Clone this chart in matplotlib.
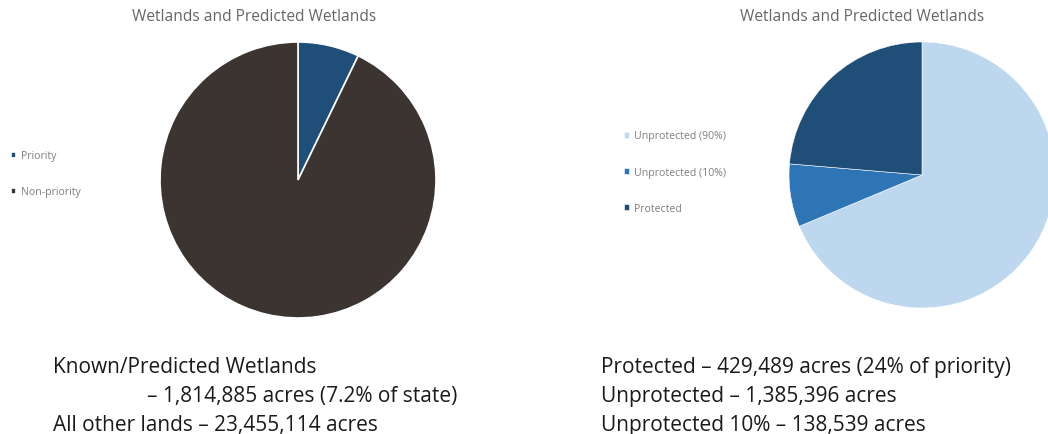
import matplotlib.pyplot as plt

# data
left_labels = ["Priority", "Non-priority"]
left_values = [1814885, 23455114]
left_colors = ["#1f4e79", "#3b3431"]

right_labels = ["Unprotected (90%)", "Unprotected (10%)", "Protected"]
right_values = [1246857, 138539, 429489]
right_colors = ["#bdd7ee", "#2e75b6", "#1f4e79"]

title = "Wetlands and Predicted Wetlands"
left_text = ["Known/Predicted Wetlands",
             "\u2013 1,814,885 acres (7.2% of state)",
             "All other lands \u2013 23,455,114 acres"]
left_text_x = [53, 147, 53]
right_text = ["Protected \u2013 429,489 acres (24% of priority)",
              "Unprotected \u2013 1,385,396 acres",
              "Unprotected 10% \u2013 138,539 acres"]

plt.rcParams['font.family'] = ['Open Sans', 'DejaVu Sans']
W, H = 1048, 435
fig = plt.figure(figsize=(W / 100, H / 100), dpi=100)


def pie_axes(cx, cy, r):
    return fig.add_axes([(cx - r) / W, (H - cy - r) / H, 2 * r / W, 2 * r / H])


ax1 = pie_axes(298, 181, 138)
w1, _ = ax1.pie(left_values, colors=left_colors, startangle=90, counterclock=False,
                wedgeprops=dict(edgecolor="white", linewidth=1.2))
ax1.set_xlim(-1, 1)
ax1.set_ylim(-1, 1)

ax2 = pie_axes(922, 176, 133)
w2, _ = ax2.pie(right_values, colors=right_colors, startangle=90, counterclock=False,
                wedgeprops=dict(edgecolor="white", linewidth=0.4))
ax2.set_xlim(-1, 1)
ax2.set_ylim(-1, 1)

# titles
fig.text(254 / W, 1 - 17 / H, title, ha="center", va="center", fontsize=11.2, color="#666666")
fig.text(862 / W, 1 - 17 / H, title, ha="center", va="center", fontsize=11.2, color="#666666")

# legends
fig.legend(w1, left_labels, loc="upper left", bbox_to_anchor=(1 / W, 1 - 142 / H),
           frameon=False, fontsize=7.6, labelcolor="#7f7f7f", handlelength=0.5,
           handleheight=0.5, handletextpad=0.5, labelspacing=2.35)
fig.legend(w2, right_labels, loc="upper left", bbox_to_anchor=(614 / W, 1 - 122 / H),
           frameon=False, fontsize=7.6, labelcolor="#7f7f7f", handlelength=0.5,
           handleheight=0.5, handletextpad=0.5, labelspacing=2.4)

# bottom notes
for i, line in enumerate(left_text):
    fig.text(left_text_x[i] / W, 1 - (373 + 29 * i) / H, line, ha="left", va="baseline",
             fontsize=15, color="#1a1a1a")
for i, line in enumerate(right_text):
    fig.text(601 / W, 1 - (373 + 29 * i) / H, line, ha="left", va="baseline",
             fontsize=15, color="#1a1a1a")

fig.savefig("out.png", dpi=100)
